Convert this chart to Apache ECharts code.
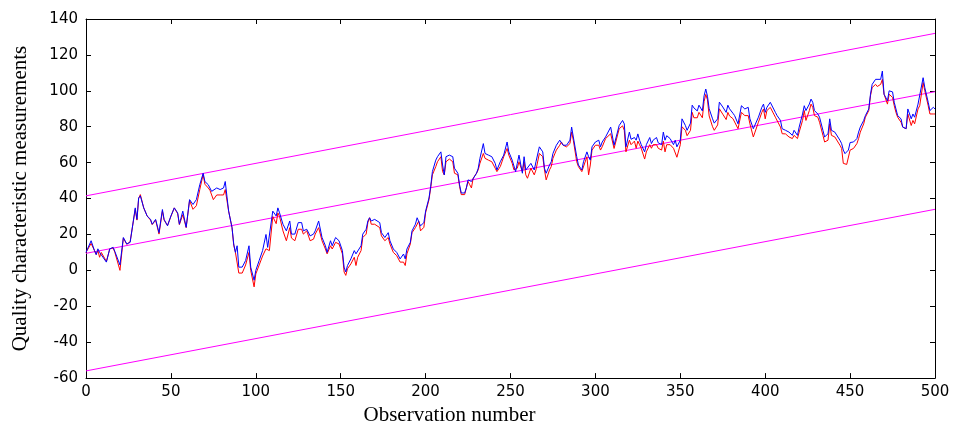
<!DOCTYPE html>
<html>
<head>
<meta charset="utf-8">
<script src="https://cdn.jsdelivr.net/npm/echarts@6/dist/echarts.min.js"></script>
<style>
html,body{margin:0;padding:0;background:#fff;}
#chart{width:961px;height:431px;}
</style>
</head>
<body>
<div id="chart"></div>
<script>
const obs = [0,3,5,6,7,8,9,12,14,16,17,20,22,24,26,29,30,31,32,34,36,38,39,41,42,43,45,46,48,50,52,54,55,57,59,61,63,65,67,69,70,72,73,74,75,77,79,81,82,84,86,87,88,89,90,92,94,96,97,99,100,102,104,106,107,108,110,112,113,114,116,118,120,121,123,125,127,128,130,132,134,135,137,138,139,141,142,144,145,147,148,149,151,152,153,154,156,158,159,160,162,163,165,166,167,168,170,171,173,174,176,178,179,181,183,185,187,188,189,191,192,194,195,196,197,199,200,202,203,204,206,207,209,210,211,212,214,216,217,218,219,220,221,223,224,225,226,227,228,230,231,232,234,235,237,239,241,242,244,246,248,249,251,252,253,254,255,257,258,259,260,262,264,265,267,269,270,271,273,274,275,277,279,280,281,283,285,286,287,289,290,292,293,295,296,297,298,300,302,303,304,306,307,309,311,312,314,316,317,318,320,321,323,324,325,326,327,329,330,332,333,334,336,337,339,340,341,342,344,346,347,348,350,351,353,354,356,357,358,360,361,363,364,365,366,367,369,370,372,373,374,375,377,378,379,381,382,384,385,386,388,389,390,391,393,394,396,398,399,400,401,403,404,406,407,409,410,411,412,414,416,417,419,420,422,423,424,426,427,428,429,431,432,434,435,437,438,439,441,442,444,445,446,447,448,449,450,452,454,455,456,458,459,461,462,463,465,466,468,469,470,472,473,475,476,477,478,480,481,483,484,486,487,488,490,491,493,494,496,497,499,500];
const blueVals = [10,16.5,11,8.8,12,10,10,4.6,12,12.8,10.5,3,18.3,14.7,15.6,34.8,28.4,40.3,41.5,34.8,30.3,28.4,25.7,28.4,27.5,21,33.9,28.4,24.8,30.3,34.8,32,25.7,33,24,39.4,36.7,39.4,47.7,54.1,49.5,47.7,47,44,44,45.9,45,45.9,49.5,33,23.8,14.7,10,13.7,1.8,1.8,5.5,13.7,1.8,-5.5,0,5.5,11,20,12.8,12.8,33,30.3,34.8,32,25.7,22,27.5,20.2,20.2,26.6,26.6,22,22.9,19.2,20.2,22,27.5,26.6,18.3,13.7,10,16.5,13.7,18.3,19.2,16.5,11,1.8,-0.9,2.7,6.4,11,9.2,10,13.7,20.2,22.9,27.5,29.3,27.5,28.4,28.4,26.6,21,18.3,21,16.5,11.9,10,6.4,9.1,6.4,11.9,15.6,22,25.7,29.3,30.2,24.8,26.6,33,40.3,46.8,55,61.4,63.3,66,58.7,53.2,63.3,64.2,63.3,56.9,56.9,54.1,47.7,43.1,43.1,45.9,50.4,51.3,49.5,50.4,54.1,56.9,62.4,70.6,65.1,64.2,63.3,59.6,55.9,60.5,64.2,71.5,66,61.4,60.5,55,59.6,64.2,54.1,63.3,55.9,55,59.6,55.9,60.5,68.8,66,56.9,54.1,58.7,60.5,65.1,69.7,72.5,73.4,69.7,69.7,72.5,79.8,74.3,63.3,58.7,55.9,60.5,66,63.3,61.4,68.8,71.5,72.5,68.8,71.5,74.3,75.2,79.8,69.7,70.6,80.7,83.5,81.6,68.8,77,73,74,72.5,76,72.5,70,66,70,74,70.6,72.5,74,71,70,77,72.5,75,73.4,70,72.5,68.8,72.5,84.4,80.7,78,82,92,90.5,88.8,92,88.8,97.2,101,97,90,84.4,82,84.4,93.7,93.7,91,88,92,90,87.5,86.2,81.6,80.7,91.7,89.9,89,90.8,84.4,78.9,78.9,85.3,90.8,92.6,88,90.8,93.6,92.6,88,86.2,83.5,78.9,78.9,78,77,75.2,78,75.2,79.8,87.1,91.7,89,92.6,95.4,93.6,89,87.1,85.3,78,74.3,76.1,84.4,78,77,76.1,72.5,70.6,67,65,66,67,71.2,71.5,73.4,77,79.8,83.5,86.2,89.9,98.1,103.6,106.4,105.5,106.4,111,98.1,94.5,100,99.4,93.6,89.9,86.2,84.4,79.8,78.9,89.9,84.4,87.1,85.3,92.6,93.6,107.3,101.8,93.6,89,90.8,89.9];
const redVals = [10,15,11,8.8,11,7.3,10,5,12,12.5,10,0,18,14.5,16,34,28,40,42.2,34.8,30.3,28,25.5,28,27,20.2,33,28,25,30,34.8,31.5,25.5,31,23.8,39,34,36,45,53.5,48,45.9,44.6,42,39.4,42,42,42,45,33,23.8,14,10,10,-1.5,-1.5,3,10,0,-9.2,-2,3,8,12,11,11,30,26,32,30,22,16.5,23.8,18,16.5,22.9,22.9,20.2,22,16.5,17.4,20.2,23.8,22.9,16.5,11.9,9.2,13.7,11.9,15.6,16.5,14.7,9.2,-0.9,-2.8,0.9,3.6,7.3,2.7,7.3,11,18.3,20.2,26.6,29.3,25.7,25.7,25.7,23.8,19.2,16.5,18.3,14.7,10,8.2,4.6,4.6,2.7,9.2,14.7,21,23.8,24.8,27.5,22,24,32.1,39.4,45.9,53.2,57.8,60.5,63.3,55,53.2,60.5,62,60.5,54.1,55,53.2,46.8,42.2,42.2,43,49.5,47.7,45.9,51.3,54.1,56,59.6,65.1,62.4,61.4,60.5,56.9,55,57.8,63.3,67.9,64.2,59.6,56,55,56.9,60.5,55,60.5,53.2,51.3,56.9,53.2,56,65.1,63.3,56,50.4,56,57.8,62.4,67,69.7,71.5,69.7,68.8,70.6,77,72.5,60.5,57.8,55,55.9,63.3,53.2,58.7,67,69.7,69.7,67,68.8,73.4,72.5,76.1,67.9,68.8,78.9,80.5,78,66,72.5,70,72,68,72,70,68,62,66,70,68,70,70,68,67,72,66,70,70,68,68,63,70,80,78,75,78,88,85,85,88,85,94,98,95,86,80,78,81,90,91,87,84,88,86,84.5,83.5,78.9,79.8,88,86.2,85.3,86.2,81.6,74.3,77,82.5,88,89.9,84.4,89,90.8,89.9,85.3,84.4,79.8,76.1,76.1,76,74.3,73.4,75.2,73.4,77,83.5,89,83.5,89,92.6,90.8,86.2,85.3,82.5,75.2,71.5,72.5,81.6,75.2,74.3,73.4,69.7,67.9,59.6,58.7,59,59.6,67,67.9,70.6,73.4,77,81.6,85.3,89,97.2,101.8,103.6,102.4,103.6,106.4,98.1,92.6,98.1,96.3,91.7,88,85.3,82.5,79.8,78.9,87.1,80.7,83.5,81.6,89.9,91.7,104.6,100,91.7,87.1,87.1,87.1];
const limitX = [0, 500];
const upperLimit = [41.5, 132];
const centerLine = [9.5, 99.5];
const lowerLimit = [-56, 34];

const pairs = (xs, ys) => xs.map((x, i) => [x, ys[i]]);

const chart = echarts.init(document.getElementById('chart'));
const tickFont = {fontFamily: 'DejaVu Sans', fontSize: 15, color: '#000'};
const lineAx = {show: true, onZero: false, lineStyle: {color: '#000', width: 1}};
const tickAx = {show: true, inside: true, length: 5, lineStyle: {color: '#000', width: 1}};
const magenta = {color: '#ff00ff', width: 1};
chart.setOption({
  animation: false,
  backgroundColor: '#fff',
  grid: {left: 86, right: 26, top: 19, bottom: 49},
  xAxis: [
    {type: 'value', min: 0, max: 500, interval: 50, position: 'bottom',
     axisLine: lineAx, axisTick: tickAx, splitLine: {show: false},
     axisLabel: Object.assign({margin: 7}, tickFont),
     name: 'Observation number', nameLocation: 'middle', nameGap: 24,
     nameTextStyle: {fontFamily: 'Liberation Serif', fontSize: 21, color: '#000', padding: [0, 122, 0, 0]}},
    {type: 'value', min: 0, max: 500, interval: 50, position: 'top',
     axisLine: lineAx, axisTick: tickAx, splitLine: {show: false}, axisLabel: {show: false}}
  ],
  yAxis: [
    {type: 'value', min: -60, max: 140, interval: 20, position: 'left',
     axisLine: lineAx, axisTick: tickAx, splitLine: {show: false},
     axisLabel: Object.assign({margin: 8}, tickFont),
     name: 'Quality characteristic measurements', nameLocation: 'middle', nameGap: 55,
     nameTextStyle: {fontFamily: 'Liberation Serif', fontSize: 21, color: '#000'}},
    {type: 'value', min: -60, max: 140, interval: 20, position: 'right',
     axisLine: lineAx, axisTick: tickAx, splitLine: {show: false}, axisLabel: {show: false}}
  ],
  series: [
    {type: 'line', data: pairs(limitX, upperLimit), showSymbol: false, lineStyle: magenta, silent: true},
    {type: 'line', data: pairs(limitX, centerLine), showSymbol: false, lineStyle: magenta, silent: true},
    {type: 'line', data: pairs(limitX, lowerLimit), showSymbol: false, lineStyle: magenta, silent: true},
    {type: 'line', data: pairs(obs, redVals), showSymbol: false, lineStyle: {color: '#ff0000', width: 1}},
    {type: 'line', data: pairs(obs, blueVals), showSymbol: false, lineStyle: {color: '#0000ff', width: 1}}
  ]
});
</script>
</body>
</html>
